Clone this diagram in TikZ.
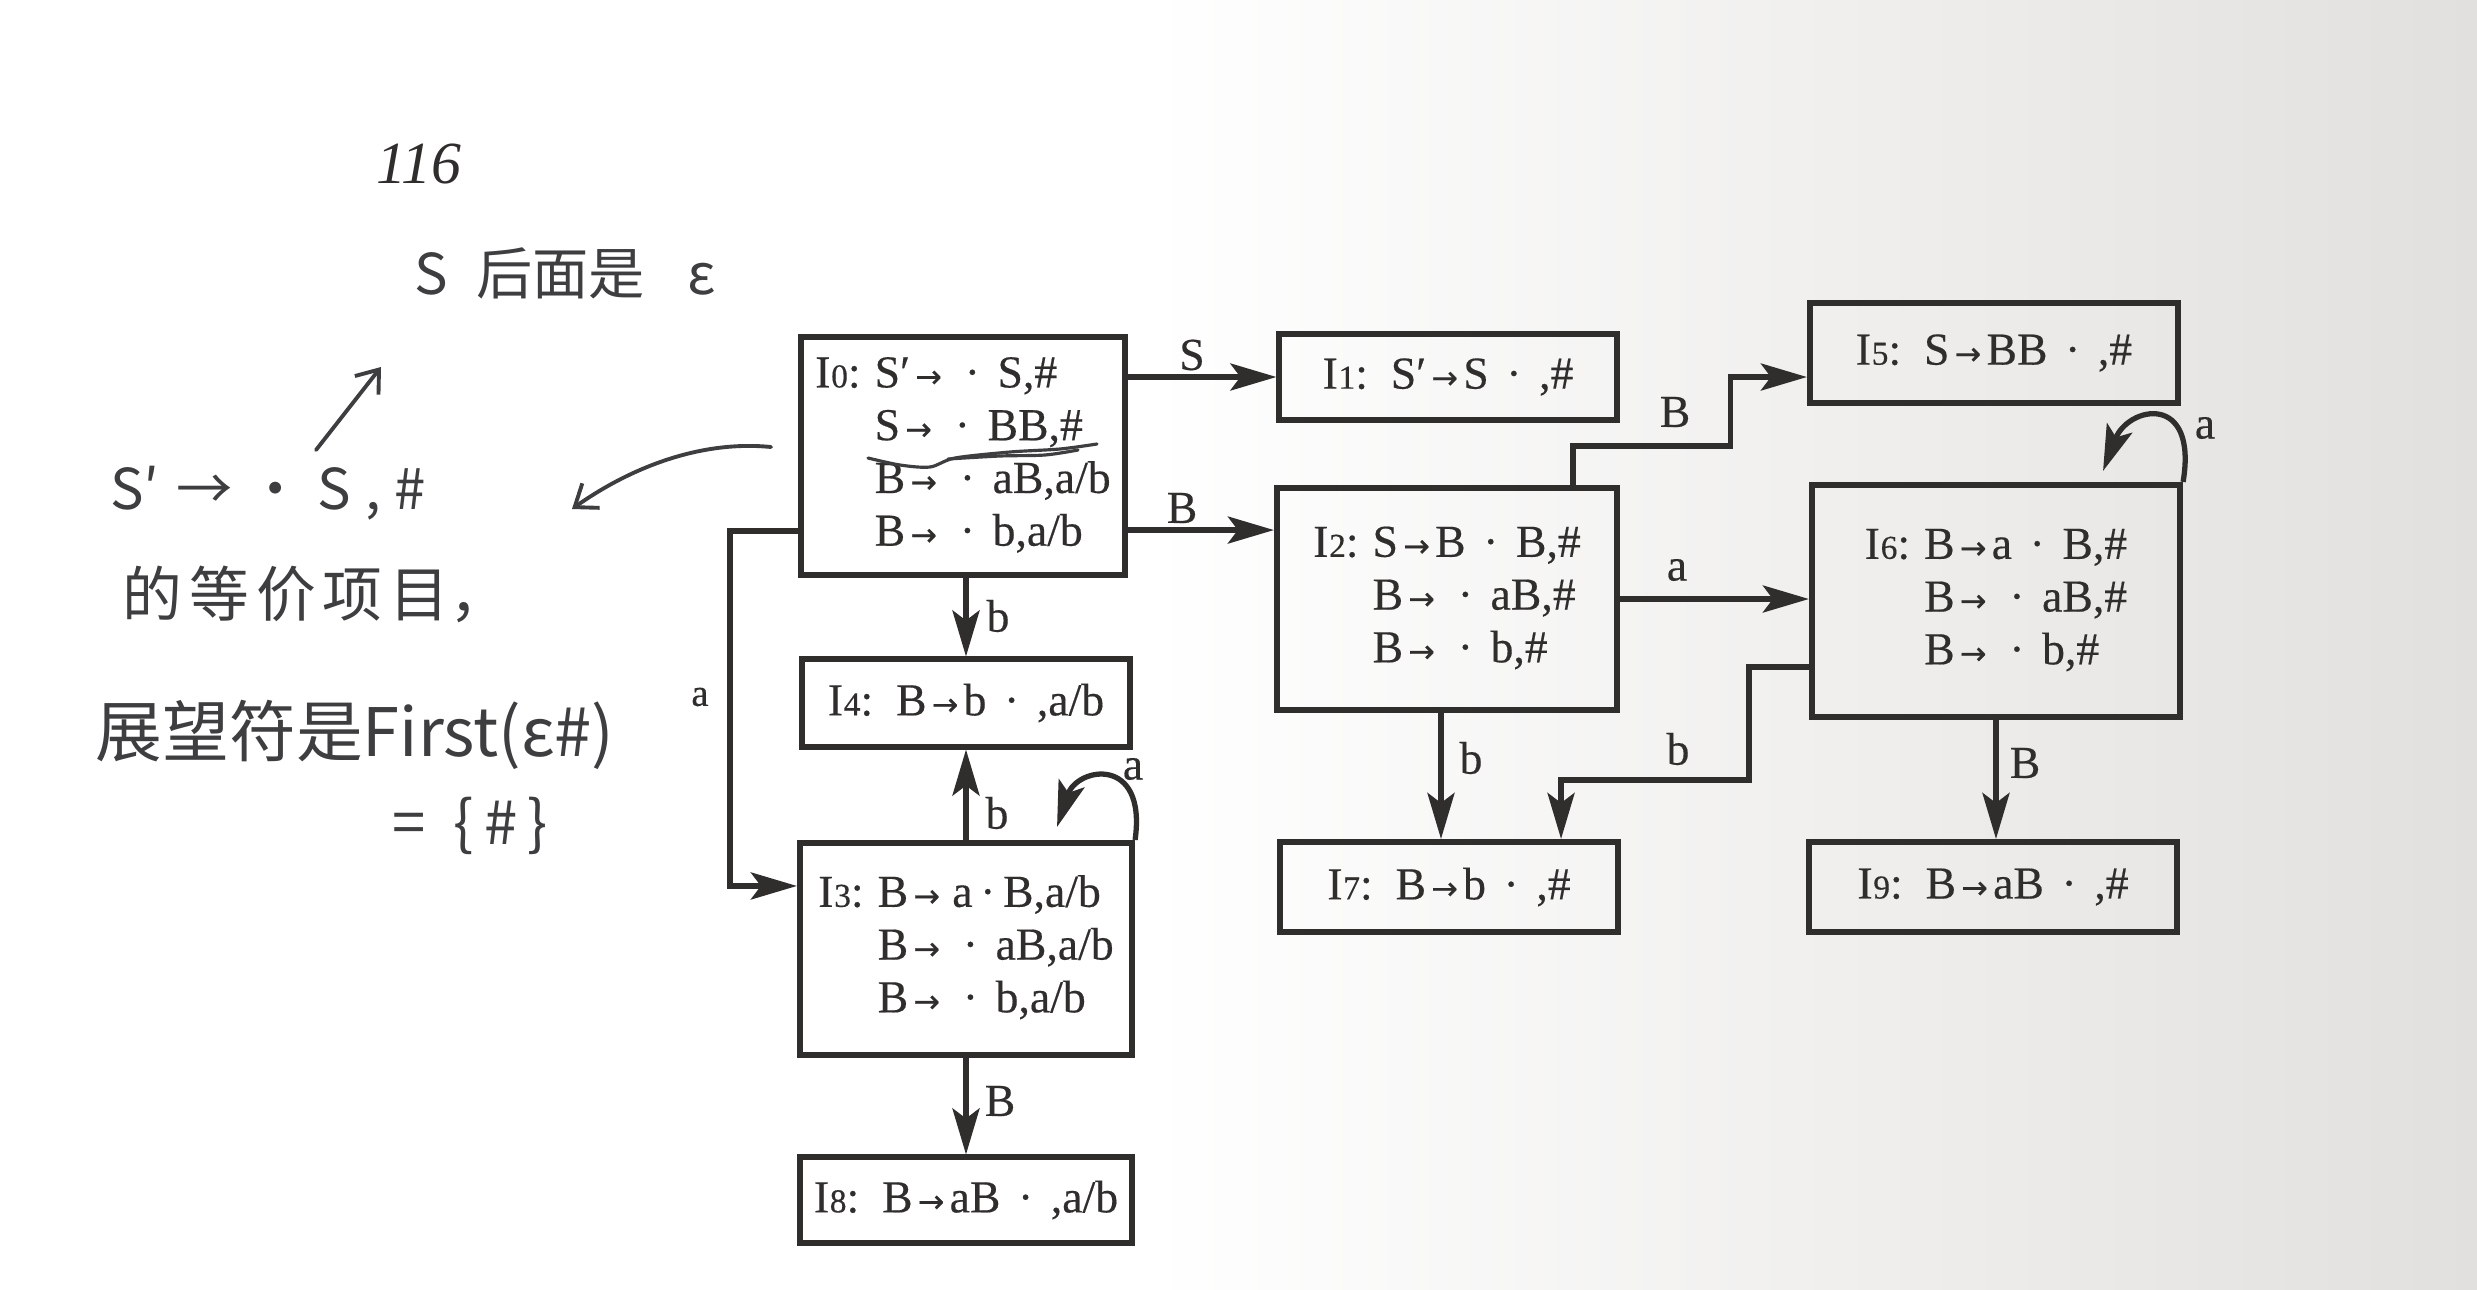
\documentclass[tikz,border=0pt]{standalone}
\usepackage{fontspec}
\setmainfont{Liberation Serif}
\newfontfamily\prt{Liberation Serif}[FakeBold=0.35]
\newfontfamily\arrf{DejaVu Sans}[FakeBold=0.5]
\newfontfamily\hand{Noto Sans CJK SC}
\usetikzlibrary{arrows.meta}
\definecolor{ink}{RGB}{48,46,45}
\definecolor{pen}{RGB}{62,62,64}
\definecolor{paper}{RGB}{226,224,222}
\newcommand\Ist[1]{I\kern0.2pt{\fontsize{9.5}{9.5}\selectfont #1}:}
\newcommand\gp{\hspace{5pt}}
\newcommand\ar{\hspace{1.5pt}{\arrf\fontsize{9}{9}\selectfont →}\hspace{1.5pt}}
\tikzset{
  state/.style={draw=ink, line width=1.7pt, inner sep=0pt, font=\prt\fontsize{13}{15}\selectfont, text=ink},
  arr/.style={draw=ink, line width=1.5pt, -{Stealth[length=0.46cm,width=0.27cm,inset=0.1cm]}},
  lab/.style={text=ink, font=\prt\fontsize{13}{13}\selectfont, inner sep=0pt},
  hw/.style={text=pen, font=\hand\fontsize{17}{20}\selectfont, inner sep=0pt},
  hwline/.style={draw=pen, line width=1.1pt, line cap=round, line join=round},
  hwarr/.style={hwline, -{Straight Barb[length=0.2cm,width=0.3cm]}}
}
\begin{document}
\begin{tikzpicture}[x=0.01cm,y=-0.01cm]
\useasboundingbox (0,0) rectangle (2477,1290);
\fill[white] (0,0) rectangle (2477,1290);
\shade[left color=white, right color=paper] (1150,0) rectangle (2477,1290);

% states
\node[state, minimum width=3.24cm, minimum height=2.37cm] (I0) at (963,456)
  {\begin{tabular}{@{}l@{\hspace{4pt}}l@{}}
   \Ist{0} & S′\ar\gp·\gp S,\# \\
           & S\ar\gp·\gp BB,\# \\
           & B\ar\gp·\gp aB,a/b \\
           & B\ar\gp·\gp b,a/b
   \end{tabular}};
\node[state, minimum width=3.37cm, minimum height=0.85cm] (I1) at (1448,377)
  {\Ist{1}\, S′\ar S\gp·\gp,\#};
\node[state, minimum width=3.68cm, minimum height=1.00cm] (I5) at (1994,353)
  {\Ist{5}\, S\ar BB\gp·\gp,\#\hspace{0.38cm}};
\node[state, minimum width=3.40cm, minimum height=2.22cm] (I2) at (1447,599)
  {\begin{tabular}{@{}l@{\hspace{4pt}}l@{}}
   \Ist{2} & S\ar B\gp·\gp B,\# \\
           & B\ar\gp·\gp aB,\# \\
           & B\ar\gp·\gp b,\#
   \end{tabular}};
\node[state, minimum width=3.68cm, minimum height=2.32cm] (I6) at (1996,601)
  {\begin{tabular}{@{}l@{\hspace{4pt}}l@{}}
   \Ist{6} & B\ar a\gp·\gp B,\# \\
           & B\ar\gp·\gp aB,\# \\
           & B\ar\gp·\gp b,\#
   \end{tabular}};
\node[state, minimum width=3.28cm, minimum height=0.87cm] (I4) at (966,703)
  {\Ist{4}\, B\ar b\gp·\gp,a/b};
\node[state, minimum width=3.32cm, minimum height=2.12cm] (I3) at (966,949)
  {\begin{tabular}{@{}l@{\hspace{4pt}}l@{}}
   \Ist{3} & B\ar\hspace{2pt}a\,·\,B,a/b \\
           & B\ar\gp·\gp aB,a/b \\
           & B\ar\gp·\gp b,a/b
   \end{tabular}};
\node[state, minimum width=3.31cm, minimum height=0.85cm] (I8) at (966,1200)
  {\Ist{8}\, B\ar aB\gp·\gp,a/b};
\node[state, minimum width=3.38cm, minimum height=0.90cm] (I7) at (1449,887)
  {\Ist{7}\, B\ar b\gp·\gp,\#};
\node[state, minimum width=3.68cm, minimum height=0.90cm] (I9) at (1993,887)
  {\Ist{9}\, B\ar aB\gp·\gp,\#};

% connectors
\draw[arr] (I0.east |- I1.west) -- (I1.west);
\coordinate (p1) at ([yshift=-0.74cm]I0.east);
\draw[arr] (p1) -- (p1 -| I2.west);
\draw[arr] (I0.south -| I4.north) -- (I4.north);
\draw[arr] (I3.north) -- (I4.south);
\draw[arr] (I3.south) -- (I8.north);
\draw[arr] (I3.north east) .. controls +(0.12cm,0.85cm) and +(0.2cm,0.6cm) .. ([xshift=-0.78cm,yshift=0.13cm]I3.north east);
\draw[arr] ([yshift=-0.75cm]I0.west) -- ++(-0.68cm,0) |- ([yshift=0.63cm]I3.west);
\draw[arr] ([xshift=1.26cm]I2.north) -- ++(0,0.39cm) -- ++(1.57cm,0) |- ([yshift=-0.24cm]I5.west);
\draw[arr] (I2.east) -- (I2.east -| I6.west);
\coordinate (p2) at ([xshift=-0.06cm]I2.south);
\draw[arr] (p2) -- (p2 |- I7.north);
\draw[arr] ([yshift=-0.66cm]I6.west) -- ++(-0.6cm,0) -- ++(0,-1.13cm) -| ([xshift=1.12cm]I7.north);
\draw[arr] (I6.south) -- (I6.south |- I9.north);
\draw[arr] (I6.north east) .. controls +(0.15cm,0.9cm) and +(0.25cm,0.65cm) .. ([xshift=-0.80cm,yshift=0.11cm]I6.north east);

% edge labels
\node[lab] (lS)   at (1192,355) {S};
\node[lab] (lB1)  at (1182,508) {B};
\node[lab] (lb04) at (998,616)  {b};
\node[lab] (lb34) at (997,813)  {b};
\node[lab] (lB38) at (1000,1101) {B};
\node[lab] (la33) at (1133,769) {a};
\node[lab, font=\prt\fontsize{11}{11}\selectfont] (la03) at (700,697) {a};
\node[lab] (lB25) at (1675,412) {B};
\node[lab] (la26) at (1677,570) {a};
\node[lab] (lb27) at (1471,758) {b};
\node[lab] (lb67) at (1678,749) {b};
\node[lab] (lB69) at (2025,763) {B};
\node[lab] (la66) at (2205,428) {a};

% page number and handwritten notes
\node[text=ink, font=\itshape\fontsize{17}{17}\selectfont, inner sep=0pt] (pg) at (419,164) {116};
\node[hw, font=\hand\fontsize{16}{20}\selectfont] (h1) at (565,273) {S\hspace{8pt}后面是\hspace{12pt}ε};
\node[hw, font=\hand\fontsize{16}{20}\selectfont] (h2) at (268,493) {S′\hspace{5pt}→\hspace{4pt}·\hspace{4pt}S\hspace{4pt},\hspace{4pt}\#};
\node[hw] (h3) at (316,594) {的\hspace{2pt}等\hspace{2pt}价\hspace{2pt}项\hspace{2pt}目，};
\node[hw, font=\hand\fontsize{19}{20}\selectfont] (h4) at (355,735) {展望符是First(ε\#)};
\node[hw] (h5) at (470,826) {=\hspace{8pt}\{\,\#\,\}};
\coordinate (ha1) at (316,450);
\coordinate (ha2) at (381,367);
\draw[hwarr] (ha1) -- (ha2);
\coordinate (hc1) at (771,447);
\coordinate (hc2) at (572,509);
\draw[hwarr] (hc1) .. controls (700,440) and (630,468) .. (hc2);
\draw[hwline, line width=0.9pt] plot[smooth] coordinates {(868,458) (900,465) (930,467) (955,458) (1010,452) (1060,449) (1097,444)};
\draw[hwline, line width=0.9pt] plot[smooth] coordinates {(948,459) (1000,456) (1045,455) (1078,450)};
\end{tikzpicture}
\end{document}
